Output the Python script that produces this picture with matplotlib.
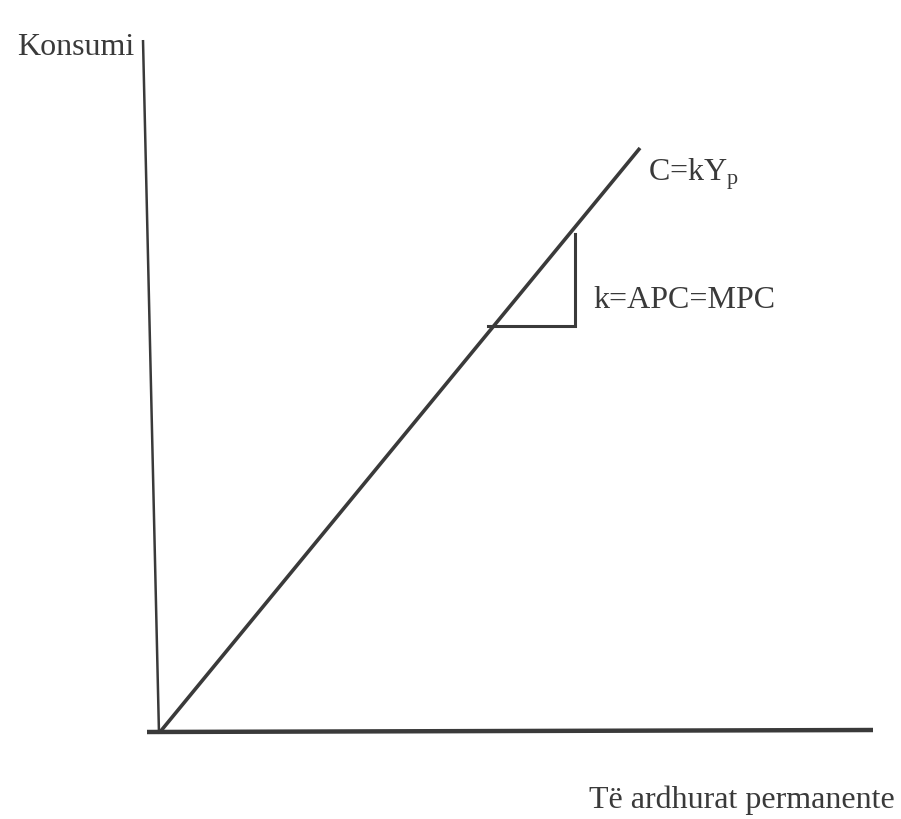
import numpy as np
import matplotlib
matplotlib.use('Agg')
from matplotlib import pyplot as plt

plt.rcParams['font.family'] = ['Liberation Serif', 'DejaVu Serif']
plt.rcParams['mathtext.fontset'] = 'custom'
plt.rcParams['mathtext.rm'] = 'Liberation Serif'
plt.rcParams['mathtext.it'] = 'Liberation Serif'

# diagram coordinates: origin where the two axes meet
yaxis_x = [0, -16]
yaxis_y = [-2, 692]
xaxis_x = [-12, 714]
xaxis_y = [0, 2]

# consumption function C = kYp
income = [1, 481]
consumption = [0, 584]

# slope triangle
tri_x = [329, 416, 416]
tri_y = [406, 406, 498]

ink = '#3a3a3a'

fig = plt.figure(figsize=(9.01, 8.19), dpi=100)
ax = fig.add_axes([0, 0, 1, 1])
ax.set_xlim(-159, 742)
ax.set_ylim(-87, 732)
ax.axis('off')

ax.plot(yaxis_x, yaxis_y, color=ink, lw=1.8, solid_capstyle='butt')
ax.plot(xaxis_x, xaxis_y, color=ink, lw=3.2, solid_capstyle='butt')
ax.plot(income, consumption, color=ink, lw=2.6, solid_capstyle='butt')
ax.plot(tri_x, tri_y, color=ink, lw=2.2, solid_joinstyle='miter')

ax.text(-142, 677, 'Konsumi', fontsize=23, color=ink, ha='left', va='baseline')
ax.text(489, 552, r'C=kY$_\mathrm{p}$', fontsize=23, color=ink, ha='left', va='baseline')
ax.text(434, 424, 'k=APC=MPC', fontsize=23, color=ink, ha='left', va='baseline')
ax.text(736, -76, 'Të ardhurat permanente', fontsize=23, color=ink, ha='right', va='baseline')

fig.savefig('out.png', dpi=100)
